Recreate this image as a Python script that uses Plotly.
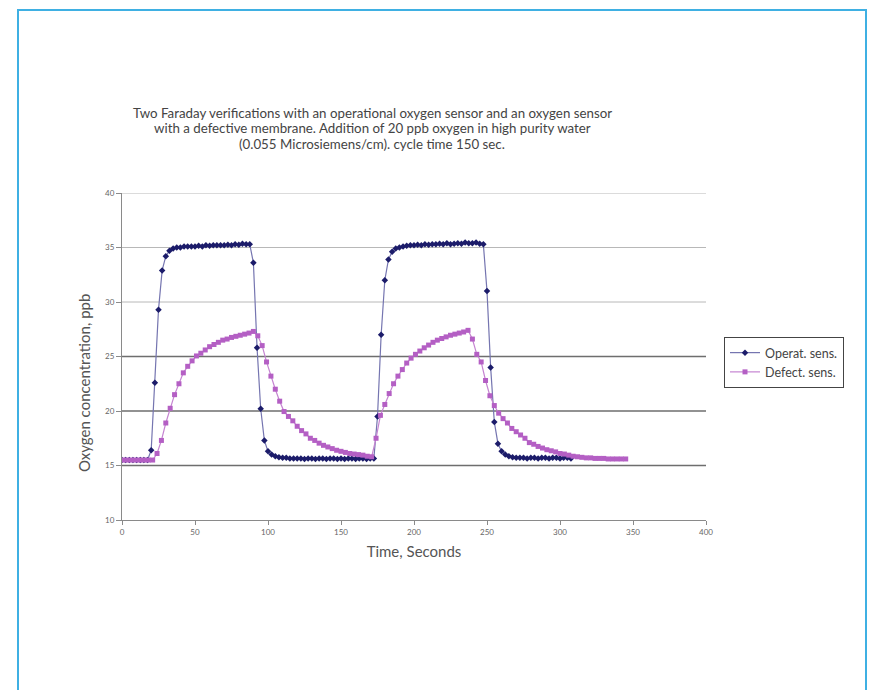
import plotly.graph_objects as go

# ---------------- data ----------------
oper_time = [0, 2.5, 5, 7.5, 10, 12.5, 15, 17.5, 20, 22.5, 25, 27.5, 30, 32.5, 35, 37.5, 40,
             42.5, 45, 47.5, 50, 52.5, 55, 57.5, 60, 62.5, 65, 67.5, 70, 72.5, 75, 77.5, 80,
             82.5, 85, 87.5, 90, 92.5, 95, 97.5, 100, 102.5, 105, 107.5, 110, 112.5, 115,
             117.5, 120, 122.5, 125, 127.5, 130, 132.5, 135, 137.5, 140, 142.5, 145, 147.5,
             150, 152.5, 155, 157.5, 160, 162.5, 165, 167.5, 170, 172.5, 175, 177.5, 180,
             182.5, 185, 187.5, 190, 192.5, 195, 197.5, 200, 202.5, 205, 207.5, 210, 212.5,
             215, 217.5, 220, 222.5, 225, 227.5, 230, 232.5, 235, 237.5, 240, 242.5, 245,
             247.5, 250, 252.5, 255, 257.5, 260, 262.5, 265, 267.5, 270, 272.5, 275, 277.5,
             280, 282.5, 285, 287.5, 290, 292.5, 295, 297.5, 300, 302.5, 305, 307.5]
oper_sens = [15.5, 15.5, 15.5, 15.5, 15.5, 15.5, 15.5, 15.5, 16.4, 22.6, 29.3, 32.9, 34.2, 34.7,
             34.9, 35.0, 35.0, 35.1, 35.1, 35.1, 35.1, 35.15, 35.1, 35.2, 35.15, 35.2, 35.2,
             35.2, 35.2, 35.25, 35.2, 35.3, 35.25, 35.35, 35.3, 35.3, 33.6, 25.8, 20.2, 17.3,
             16.3, 16.0, 15.85, 15.75, 15.7, 15.7, 15.65, 15.65, 15.65, 15.65, 15.6, 15.65,
             15.65, 15.6, 15.65, 15.65, 15.6, 15.65, 15.65, 15.6, 15.65, 15.6, 15.65, 15.65,
             15.6, 15.65, 15.65, 15.6, 15.65, 15.65, 19.5, 27.0, 32.0, 33.9, 34.6, 34.9, 35.0,
             35.1, 35.15, 35.2, 35.2, 35.25, 35.2, 35.3, 35.25, 35.3, 35.3, 35.35, 35.3, 35.4,
             35.3, 35.35, 35.4, 35.35, 35.45, 35.4, 35.4, 35.45, 35.35, 35.3, 31.0, 24.0, 19.0,
             17.0, 16.3, 16.0, 15.85, 15.75, 15.7, 15.7, 15.7, 15.65, 15.7, 15.7, 15.65, 15.7,
             15.7, 15.65, 15.7, 15.7, 15.65, 15.7, 15.7, 15.65, 15.7]

defect_time = [0, 3, 6, 9, 12, 15, 18, 21, 24, 27, 30, 33, 36, 39, 42, 45, 48, 51, 54, 57,
               60, 63, 66, 69, 72, 75, 78, 81, 84, 87, 90, 93, 96, 99, 102, 105, 108, 111,
               114, 117, 120, 123, 126, 129, 132, 135, 138, 141, 144, 147, 150, 153, 156,
               159, 162, 165, 168, 171, 174, 177, 180, 183, 186, 189, 192, 195, 198, 201,
               204, 207, 210, 213, 216, 219, 222, 225, 228, 231, 234, 237, 240, 243, 246,
               249, 252, 255, 258, 261, 264, 267, 270, 273, 276, 279, 282, 285, 288, 291,
               294, 297, 300, 303, 306, 309, 312, 315, 318, 321, 324, 327, 330, 333, 336,
               339, 342, 345]
defect_sens = [15.5, 15.5, 15.5, 15.5, 15.5, 15.5, 15.5, 15.5, 16.1, 17.3, 18.9, 20.25, 21.5,
               22.5, 23.5, 24.1, 24.6, 25.05, 25.3, 25.6, 25.9, 26.1, 26.3, 26.5, 26.6, 26.75,
               26.85, 26.95, 27.05, 27.15, 27.3, 26.9, 26.0, 24.5, 23.2, 22.0, 20.9, 19.95,
               19.5, 19.1, 18.6, 18.2, 17.9, 17.5, 17.3, 17.05, 16.85, 16.7, 16.55, 16.4,
               16.3, 16.2, 16.1, 16.05, 16.0, 15.95, 15.85, 15.8, 17.5, 19.6, 20.6, 21.6, 22.5,
               23.2, 23.8, 24.4, 24.85, 25.2, 25.5, 25.8, 26.05, 26.3, 26.5, 26.65, 26.8, 26.95,
               27.05, 27.15, 27.25, 27.4, 26.6, 25.2, 24.5, 22.8, 21.4, 20.5, 19.8, 19.3, 18.9,
               18.4, 18.1, 17.8, 17.5, 17.1, 16.95, 16.75, 16.6, 16.45, 16.35, 16.25, 16.1,
               16.05, 15.95, 15.85, 15.8, 15.75, 15.7, 15.7, 15.65, 15.65, 15.65, 15.6, 15.6,
               15.6, 15.6, 15.6]

series_names = ["Operat. sens.", "Defect. sens."]
x_ticks = [0, 50, 100, 150, 200, 250, 300, 350, 400]
y_ticks = [10, 15, 20, 25, 30, 35, 40]
dark_grid = [15, 20, 25]
light_grid = [30, 35, 40]

title_lines = [
    "Two Faraday verifications with an operational oxygen sensor and an oxygen sensor",
    "with a defective membrane. Addition of 20 ppb oxygen in high purity water",
    "(0.055 Microsiemens/cm). cycle time 150 sec.",
]

FONT = "Lato, 'Noto Sans', sans-serif"

# plot area in figure pixels (page has 8px body margin)
L, R, T, B = 114, 180, 185, 178
PW, PH = 878 - L - R, 690 - T - B
BOT = 690 - B


def px(xp):
    return (xp - 8 - L) / PW


def py(yp):
    return (BOT - (yp - 8)) / PH


fig = go.Figure()
fig.add_trace(go.Scatter(
    x=oper_time, y=oper_sens, name=series_names[0], mode="lines+markers",
    line=dict(color="#7575b0", width=1.2),
    marker=dict(symbol="diamond", size=5, color="#1c1c6a"),
))
fig.add_trace(go.Scatter(
    x=defect_time, y=defect_sens, name=series_names[1], mode="lines+markers",
    line=dict(color="#c584d1", width=1.2),
    marker=dict(symbol="square", size=5, color="#b45fc4"),
))

shapes = []
for g in dark_grid:
    shapes.append(dict(type="line", xref="paper", x0=0, x1=1, yref="y", y0=g, y1=g,
                       line=dict(color="#6e6e6e", width=1.5), layer="below"))
for g in light_grid:
    shapes.append(dict(type="line", xref="paper", x0=0, x1=1, yref="y", y0=g, y1=g,
                       line=dict(color="#b8b8b8", width=1), layer="below"))
# outer light-blue frame
shapes.append(dict(type="rect", xref="paper", yref="paper", x0=px(18), x1=px(866),
                   y0=py(720), y1=py(10), line=dict(color="#3fb0e3", width=2)))

annotations = []
for line_text, yc in zip(title_lines, [113, 128, 144]):
    annotations.append(dict(text=line_text, xref="paper", yref="paper",
                            x=px(372), y=py(yc), xanchor="center", yanchor="middle",
                            showarrow=False,
                            font=dict(size=13.3, color="#444", family=FONT)))
annotations.append(dict(text="Oxygen concentration, ppb", xref="paper", yref="paper",
                        x=px(84), y=py(383), xanchor="center", yanchor="middle",
                        textangle=-90, showarrow=False,
                        font=dict(size=15, color="#555", family=FONT)))

fig.update_layout(
    width=878, height=690,
    margin=dict(l=L, r=R, t=T, b=B),
    paper_bgcolor="white", plot_bgcolor="white",
    font=dict(family=FONT, color="#555"),
    shapes=shapes,
    annotations=annotations,
    showlegend=True,
    legend=dict(x=px(724), y=py(337), xanchor="left", yanchor="top",
                bordercolor="#444", borderwidth=1, bgcolor="white",
                font=dict(size=12.5, color="#444", family=FONT),
                traceorder="normal", itemwidth=30, tracegroupgap=0),
    xaxis=dict(range=[0, 400], tickvals=x_ticks, showgrid=False,
               showline=True, linecolor="#8a8a8a", linewidth=1,
               ticks="outside", ticklen=4, tickcolor="#8a8a8a",
               tickfont=dict(size=8, color="#666"),
               title=dict(text="Time, Seconds", font=dict(size=15, color="#555"), standoff=10),
               zeroline=False),
    yaxis=dict(range=[10, 40], tickvals=y_ticks, showgrid=False,
               showline=True, linecolor="#8a8a8a", linewidth=1,
               ticks="outside", ticklen=5, tickcolor="#8a8a8a",
               tickfont=dict(size=8, color="#666"),
               zeroline=False),
)

fig.write_html("out.html")
